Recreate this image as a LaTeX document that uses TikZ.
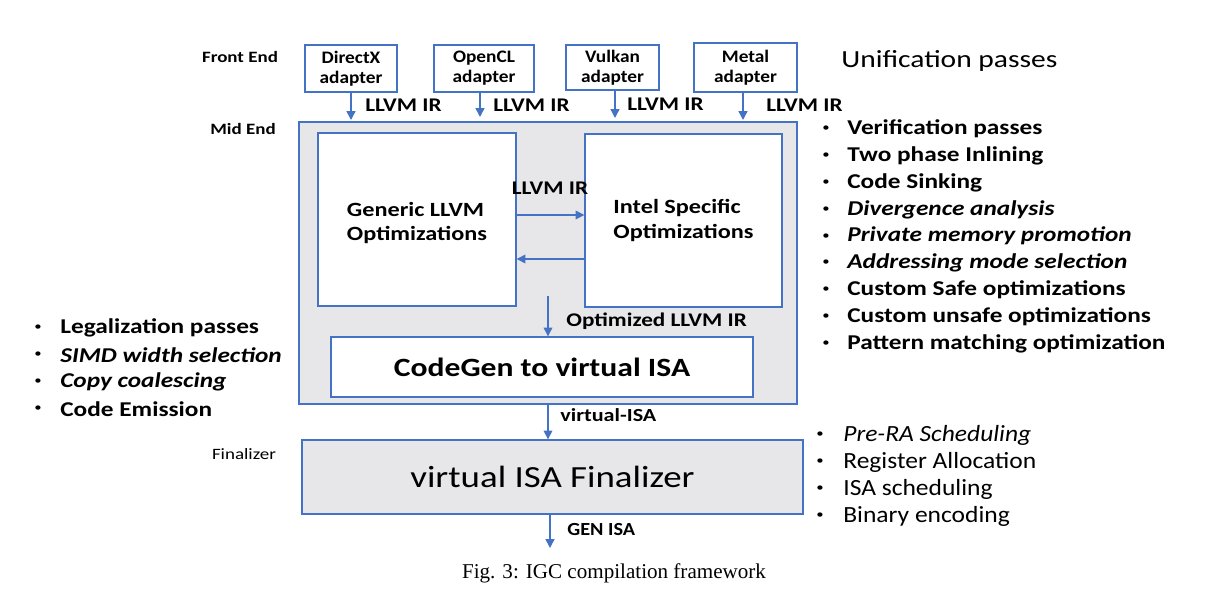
\documentclass[tikz,border=0pt]{standalone}
\usepackage{fontspec}
\setmainfont{Carlito}[FakeStretch=1.2]
\newfontfamily\adfont{Carlito}[FakeStretch=1.1]
\newfontfamily\capfont{Liberation Serif}
\usetikzlibrary{positioning,arrows.meta}

\definecolor{igcblue}{HTML}{4472C4}
\definecolor{igcgray}{HTML}{E7E6E8}

\tikzset{
    adapter/.style={draw=igcblue, line width=0.8pt, fill=white, align=center, inner sep=0pt,
        font=\adfont\bfseries\fontsize{10}{11.5}\selectfont},
    optbox/.style={draw=igcblue, line width=0.8pt, fill=white, align=left, inner sep=0pt,
        font=\bfseries\fontsize{11.5}{14}\selectfont},
    stage/.style={draw=igcblue, line width=0.8pt, fill=igcgray, inner sep=0pt},
    flow/.style={draw=igcblue, line width=0.8pt, -{Triangle[length=5pt,width=5pt]}},
    irlabel/.style={anchor=west, inner sep=0pt, font=\bfseries\fontsize{11}{13}\selectfont},
    phase/.style={anchor=center, font=\bfseries\fontsize{9}{11}\selectfont},
    passitem/.style={anchor=west, inner sep=0pt, font=\bfseries\fontsize{12}{14}\selectfont},
    passdot/.style={anchor=center, inner sep=0pt, font=\fontsize{7}{8}\selectfont}
}

\begin{document}
\begin{tikzpicture}[x=0.02cm, y=-0.02cm]
    \useasboundingbox (0,0) rectangle (1218,598);

    % front end
    \node (FrontEnd) [phase] at (240,57) {Front End};
    \node (DirectX) [adapter, minimum width=1.84cm, minimum height=0.94cm] at (351,68.5) {DirectX\\adapter};
    \node (OpenCL)  [adapter, minimum width=2.00cm, minimum height=0.94cm] at (484,68.5) {OpenCL\\adapter};
    \node (Vulkan)  [adapter, minimum width=1.86cm, minimum height=0.90cm] at (612.5,67.5) {Vulkan\\adapter};
    \node (Metal)   [adapter, minimum width=2.06cm, minimum height=0.98cm] at (745.5,67.5) {Metal\\adapter};
    \node (Unify) [anchor=west, inner sep=0pt, font=\fontsize{14}{16}\selectfont] at (841,61) {Unification passes};

    % mid end
    \node (MidEnd) [phase] at (243,129) {Mid End};
    \node (Mid) [stage, minimum width=9.96cm, minimum height=5.64cm] at (548,263) {};
    \node (Generic) [optbox, minimum width=3.96cm, minimum height=3.46cm] at (417,219.5) {\\[-2pt]Generic LLVM\\Optimizations};
    \node (Intel)   [optbox, minimum width=3.94cm, minimum height=3.46cm] at (683.5,220.5) {Intel Specific\\Optimizations};
    \node (CodeGen) [adapter, minimum width=8.44cm, minimum height=1.20cm,
        font=\bfseries\fontsize{15}{17}\selectfont] at (542,367) {CodeGen to virtual ISA};

    \coordinate (DxIn) at (351,120);
    \coordinate (ClIn) at (480,117);
    \coordinate (VkIn) at (615,118);
    \coordinate (MtIn) at (743,120);
    \draw[flow] (DirectX.south -| DxIn) -- (DxIn);
    \draw[flow] (OpenCL.south -| ClIn) -- (ClIn);
    \draw[flow] (Vulkan.south -| VkIn) -- (VkIn);
    \draw[flow] (Metal.south -| MtIn) -- (MtIn);
    \node (IrA) [irlabel] at (365,105) {LLVM IR};
    \node (IrB) [irlabel] at (493,105) {LLVM IR};
    \node (IrC) [irlabel] at (627,104) {LLVM IR};
    \node (IrD) [irlabel] at (766,105) {LLVM IR};

    \coordinate (FwdY) at (0,215);
    \coordinate (BackY) at (0,259);
    \draw[flow] (Generic.east |- FwdY) -- (Intel.west |- FwdY);
    \draw[flow] (Intel.west |- BackY) -- (Generic.east |- BackY);
    \node (IrMid) [irlabel, anchor=center] at (550,188) {LLVM IR};
    \coordinate (OptTop) at (548,296);
    \draw[flow] (OptTop) -- (OptTop |- CodeGen.north);
    \node (IrOpt) [irlabel] at (566,321) {Optimized LLVM IR};

    % finalizer
    \node (FinLabel) [phase, font=\fontsize{9}{11}\selectfont] at (244,454) {Finalizer};
    \node (Finalizer) [stage, minimum width=10.02cm, minimum height=1.48cm,
        font=\fontsize{17.5}{20}\selectfont] at (552.5,477) {virtual ISA Finalizer};
    \draw[flow] (Mid.south -| OptTop) -- (Finalizer.north -| OptTop);
    \node (VIsa) [irlabel, font=\bfseries\fontsize{10.5}{12}\selectfont] at (560,415) {virtual-ISA};
    \coordinate (GenOut) at (550,548);
    \draw[flow] (Finalizer.south -| GenOut) -- (GenOut);
    \node (GenIsa) [irlabel, font=\adfont\bfseries\fontsize{10.5}{12}\selectfont] at (567,530) {GEN ISA};

    % pass lists
    \foreach \txt [count=\i] in {Verification passes, Two phase Inlining, Code Sinking,
        {\itshape Divergence analysis}, {\itshape Private memory promotion},
        {\itshape Addressing mode selection}, Custom Safe optimizations,
        Custom unsafe optimizations, Pattern matching optimization}
    {
        \node (rb\i) [passdot] at (826,{129+26.8*(\i-1)}) {•};
        \node (rt\i) [passitem] at (847,{129+26.8*(\i-1)}) {\txt};
    }
    \foreach \txt [count=\i] in {Legalization passes, {\itshape SIMD width selection},
        {\itshape Copy coalescing}, Code Emission}
    {
        \node (lb\i) [passdot] at (38,{328+27*(\i-1)}) {•};
        \node (lt\i) [passitem] at (60,{328+27*(\i-1)}) {\txt};
    }
    \foreach \txt [count=\i] in {{\itshape Pre-RA Scheduling}, Register Allocation,
        ISA scheduling, Binary encoding}
    {
        \node (fb\i) [passdot] at (820,{435+27*(\i-1)}) {•};
        \node (ft\i) [passitem, font=\adfont\fontsize{13.2}{15}\selectfont] at (843,{435+27*(\i-1)}) {\txt};
    }

    \node (Caption) [font=\capfont\fontsize{12}{14}\selectfont] at (614,573) {Fig. 3: IGC compilation framework};
\end{tikzpicture}
\end{document}
